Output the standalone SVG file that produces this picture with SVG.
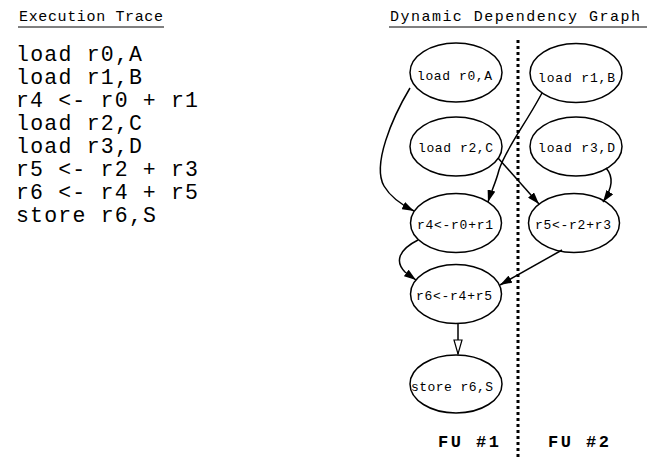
<svg xmlns="http://www.w3.org/2000/svg" width="654" height="457" viewBox="0 0 654 457">
<defs>
<style>
.t{font-family:"Liberation Mono","Courier New",monospace;fill:#000}
.title{font-size:15px}
.code{font-size:21.5px}
.lbl{font-size:13px}
.fu{font-size:17px;font-weight:bold}
.nd{fill:#fff;stroke:#000;stroke-width:1.5}
.e{fill:none;stroke:#000;stroke-width:1.5}
.ul{stroke:#000;stroke-width:1}
</style>
<marker id="ah" markerWidth="12" markerHeight="8" refX="12" refY="4" orient="auto" markerUnits="userSpaceOnUse">
<path d="M0,0 L12,4 L0,8 Z" fill="#000"/>
</marker>
<marker id="oh" markerWidth="16" markerHeight="10" refX="15" refY="5" orient="auto" markerUnits="userSpaceOnUse">
<path d="M1,1 L15,5 L1,9 Z" fill="#fff" stroke="#000" stroke-width="1.2"/>
</marker>
</defs>
<rect width="654" height="457" fill="#fff"/>

<g id="trace">
<text class="t title" x="19" y="21" textLength="144" lengthAdjust="spacing">Execution Trace</text>
<line class="ul" x1="18" y1="27" x2="164" y2="27"/>
<text class="t code" x="16" y="61" textLength="126" lengthAdjust="spacing">load r0,A</text>
<text class="t code" x="16" y="84" textLength="126" lengthAdjust="spacing">load r1,B</text>
<text class="t code" x="16" y="107" textLength="182" lengthAdjust="spacing">r4 &lt;- r0 + r1</text>
<text class="t code" x="16" y="130" textLength="126" lengthAdjust="spacing">load r2,C</text>
<text class="t code" x="16" y="153" textLength="126" lengthAdjust="spacing">load r3,D</text>
<text class="t code" x="16" y="176" textLength="182" lengthAdjust="spacing">r5 &lt;- r2 + r3</text>
<text class="t code" x="16" y="199" textLength="182" lengthAdjust="spacing">r6 &lt;- r4 + r5</text>
<text class="t code" x="16" y="222" textLength="140" lengthAdjust="spacing">store r6,S</text>
</g>

<g id="graph-title">
<text class="t title" x="390" y="21" textLength="250" lengthAdjust="spacing">Dynamic Dependency Graph</text>
<line class="ul" x1="389" y1="27" x2="647" y2="27"/>
</g>

<g id="divider">
<line x1="518" y1="40" x2="518" y2="457" stroke="#000" stroke-width="3" stroke-dasharray="3 3"/>
</g>

<g id="n-r0">
<ellipse class="nd" cx="456" cy="72.5" rx="46" ry="29.5"/>
<text class="t lbl" x="417" y="80" textLength="75" lengthAdjust="spacing">load r0,A</text>
</g>
<g id="n-r1">
<ellipse class="nd" cx="576" cy="73" rx="46" ry="29.5"/>
<text class="t lbl" x="538" y="82" textLength="77" lengthAdjust="spacing">load r1,B</text>
</g>
<g id="n-r2">
<ellipse class="nd" cx="456" cy="146.5" rx="46" ry="29.5"/>
<text class="t lbl" x="418" y="152" textLength="75" lengthAdjust="spacing">load r2,C</text>
</g>
<g id="n-r3">
<ellipse class="nd" cx="576" cy="146.5" rx="46" ry="29.5"/>
<text class="t lbl" x="538" y="152" textLength="77" lengthAdjust="spacing">load r3,D</text>
</g>
<g id="n-r4">
<ellipse class="nd" cx="456" cy="223" rx="45.5" ry="29.5"/>
<text class="t lbl" x="417" y="229" textLength="76" lengthAdjust="spacing">r4&lt;-r0+r1</text>
</g>
<g id="n-r5">
<ellipse class="nd" cx="574" cy="223" rx="45.5" ry="29.5"/>
<text class="t lbl" x="535" y="229" textLength="76" lengthAdjust="spacing">r5&lt;-r2+r3</text>
</g>
<g id="n-r6">
<ellipse class="nd" cx="456" cy="294" rx="45.5" ry="29.5"/>
<text class="t lbl" x="416" y="300" textLength="76" lengthAdjust="spacing">r6&lt;-r4+r5</text>
</g>
<g id="n-store">
<ellipse class="nd" cx="456" cy="384" rx="46" ry="29"/>
<text class="t lbl" x="411" y="391" textLength="82" lengthAdjust="spacing">store r6,S</text>
</g>

<g id="connectors">
<path class="e" d="M410,88 C392,118 372,165 384,186 C391,198 402,205 414,211" marker-end="url(#ah)"/>
<path class="e" d="M542,93 C525,125 505,150 499,170 C496,182 491,192 488,202" marker-end="url(#ah)"/>
<path class="e" d="M498,158 L539,204" marker-end="url(#ah)"/>
<path class="e" d="M606,168 C614,177 612,189 603,202" marker-end="url(#ah)"/>
<path class="e" d="M418,240 C398,250 395,262 405,272 L416,280" marker-end="url(#ah)"/>
<path class="e" d="M562,250 L500,285" marker-end="url(#ah)"/>
<path class="e" d="M458,323 L458,354" marker-end="url(#oh)"/>
</g>

<g id="fu-labels">
<text class="t fu" x="438" y="447" textLength="61" lengthAdjust="spacing">FU #1</text>
<text class="t fu" x="548" y="447" textLength="61" lengthAdjust="spacing">FU #2</text>
</g>
</svg>
